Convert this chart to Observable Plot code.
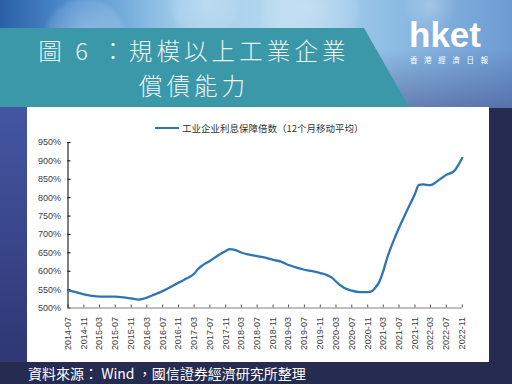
<!DOCTYPE html>
<html>
<head>
<meta charset="utf-8">
<script src="https://cdn.jsdelivr.net/npm/d3@7"></script>
<script src="https://cdn.jsdelivr.net/npm/@observablehq/plot@0.6"></script>
<style>
  html, body { margin: 0; padding: 0; }
  body { width: 512px; height: 384px; position: relative; overflow: hidden; background: #262b50; }
  #top { position: absolute; left: 0; top: 0; width: 512px; height: 108px;
    background:
      radial-gradient(circle at 85px 40px, rgba(255,255,255,0.35) 0, rgba(255,255,255,0.12) 38px, rgba(255,255,255,0) 44px),
      radial-gradient(circle at 205px 5px, rgba(255,255,255,0.25) 0, rgba(255,255,255,0.1) 30px, rgba(255,255,255,0) 36px),
      radial-gradient(circle at 310px 10px, rgba(255,255,255,0.3) 0, rgba(255,255,255,0.1) 45px, rgba(255,255,255,0) 52px),
      radial-gradient(circle at 430px 5px, rgba(255,255,255,0.25) 0, rgba(255,255,255,0) 28px),
      linear-gradient(to bottom, rgba(0,0,0,0) 45%, rgba(70,80,140,0.55) 100%),
      linear-gradient(to right, #2b5fa6 0%, #4f8fce 14%, #9fcbeb 35%, #b4d7ef 55%, #90bfe5 75%, #6d9bd2 100%);
  }
  #left { position: absolute; left: 0; top: 107px; width: 27px; height: 255px;
    background: linear-gradient(to bottom, #4456a2, #2f3774); }
  #banner { position: absolute; left: 0; top: 28px; width: 410px; height: 80px; background: #3a98a9;
    clip-path: polygon(0 0, 364px 0, 409px 79px, 0 79px); }
  .title { position: absolute; left: 0; width: 388px; text-align: center; height: 34px;
    font-family: "Noto Sans CJK TC", sans-serif; font-weight: 300; font-size: 23.5px; line-height: 34px; letter-spacing: 4.1px; color: #eef4f6; white-space: nowrap; }
  #t1 { top: 33px; }
  #t2 { top: 67.5px; }
  #logo { position: absolute; left: 409px; top: 15.3px; height: 39px; font-family: "Liberation Sans", Arial, sans-serif; font-weight: 700;
    font-size: 35px; line-height: 39px; color: #fff; letter-spacing: 0px; }
  #logosub { position: absolute; left: 410px; top: 54.3px; height: 11px; line-height: 11px; font-family: "Noto Sans CJK TC", sans-serif; font-size: 7.5px;
    letter-spacing: 6.6px; color: #fff; white-space: nowrap; }
  #panel { position: absolute; left: 27px; top: 107px; width: 462px; height: 255px; background: #fff; }
  #legend { position: absolute; left: 155px; top: 121px; font-family: "Noto Sans CJK SC", sans-serif; font-size: 9.5px;
    color: #333; white-space: nowrap; display: flex; align-items: center; }
  #legend .sw { display: inline-block; width: 24px; height: 2px; background: #2e75b6; margin-right: 3px; }
  #caption { position: absolute; left: 28px; top: 362px; font-family: "Noto Sans CJK TC", sans-serif; font-size: 14px;
    line-height: 22px; color: #fff; white-space: nowrap; }
</style>
</head>
<body>
<div id="top"></div>
<div id="left"></div>
<div id="banner"></div>
<div class="title" id="t1">圖 6 ：規模以上工業企業</div>
<div class="title" id="t2">償債能力</div>
<div id="logo">hket</div>
<div id="logosub">香港經濟日報</div>
<div id="panel"></div>
<div id="legend"><span class="sw"></span>工业企业利息保障倍数（12个月移动平均）</div>
<div id="caption">資料來源： Wind ，國信證券經濟研究所整理</div>
<script>
// Data
const months = [
  "2014-07","2014-09","2014-11","2015-01","2015-03","2015-05","2015-07","2015-09","2015-11",
  "2016-01","2016-03","2016-05","2016-07","2016-09","2016-11","2017-01","2017-03","2017-04",
  "2017-05","2017-07","2017-09","2017-11","2017-12","2018-01","2018-03","2018-05","2018-07",
  "2018-09","2018-11","2019-01","2019-03","2019-05","2019-07","2019-09","2019-11","2020-01",
  "2020-02","2020-03","2020-05","2020-07","2020-09","2020-11","2020-12","2021-01","2021-02",
  "2021-03","2021-04","2021-05","2021-06","2021-07","2021-09","2021-11","2021-12","2022-01",
  "2022-03","2022-05","2022-07","2022-09","2022-10","2022-11"
];
const values = [
  548, 543, 537, 533, 531, 531, 531, 529, 526,
  523, 528, 537, 546, 557, 569, 580, 593, 606,
  615, 628, 643, 655, 660, 659, 651, 645, 641,
  637, 631, 626, 617, 610, 604, 600, 595, 588,
  582, 572, 555, 547, 543, 543, 545, 556, 573,
  600, 637, 666, 693, 718, 765, 810, 835, 836,
  834, 847, 862, 873, 888, 908
];
const tickLabels = [
  "2014-07","2014-11","2015-03","2015-07","2015-11","2016-03","2016-07","2016-11","2017-03",
  "2017-07","2017-11","2018-03","2018-07","2018-11","2019-03","2019-07","2019-11","2020-03",
  "2020-07","2020-11","2021-03","2021-07","2021-11","2022-03","2022-07","2022-11"
];
const yTicks = [500, 550, 600, 650, 700, 750, 800, 850, 900, 950];

const parse = d3.utcParse("%Y-%m");
const fmt = d3.utcFormat("%Y-%m");
const data = months.map((m, i) => ({date: parse(m), value: values[i]}));
const tickDates = tickLabels.map(parse);

const chart = Plot.plot({
  width: 462,
  height: 255,
  marginLeft: 40.5,
  marginRight: 27.3,
  marginTop: 35,
  marginBottom: 54.5,
  style: {fontFamily: "'Liberation Sans', Arial, sans-serif", fontSize: "9px", color: "#404040", background: "transparent", overflow: "visible"},
  x: {type: "utc", domain: [tickDates[0], tickDates[tickDates.length - 1]], label: null},
  y: {domain: [500, 950], label: null},
  marks: [
    Plot.axisY(yTicks, {tickSize: 0, tickPadding: 7, tickFormat: d => d + "%", fill: "#404040", label: null}),
    Plot.axisY(yTicks, {tickSize: 3, dx: 3, tickFormat: () => "", stroke: "#000", label: null}),
    Plot.axisX(tickDates, {tickSize: 0, tickPadding: 9, tickRotate: -90, tickFormat: fmt, fill: "#404040", label: null}),
    Plot.axisX(tickDates, {tickSize: 3, dy: -3, tickFormat: () => "", stroke: "#555", label: null}),
    Plot.ruleY([500], {stroke: "#808080"}),
    Plot.ruleX([tickDates[0]], {y1: 500, y2: 950, stroke: "#000"}),
    Plot.line(data, {x: "date", y: "value", stroke: "#2e75b6", strokeWidth: 2.3, curve: "monotone-x"})
  ]
});
chart.style.position = "absolute";
chart.style.left = "27px";
chart.style.top = "107px";
document.body.appendChild(chart);
</script>
</body>
</html>
